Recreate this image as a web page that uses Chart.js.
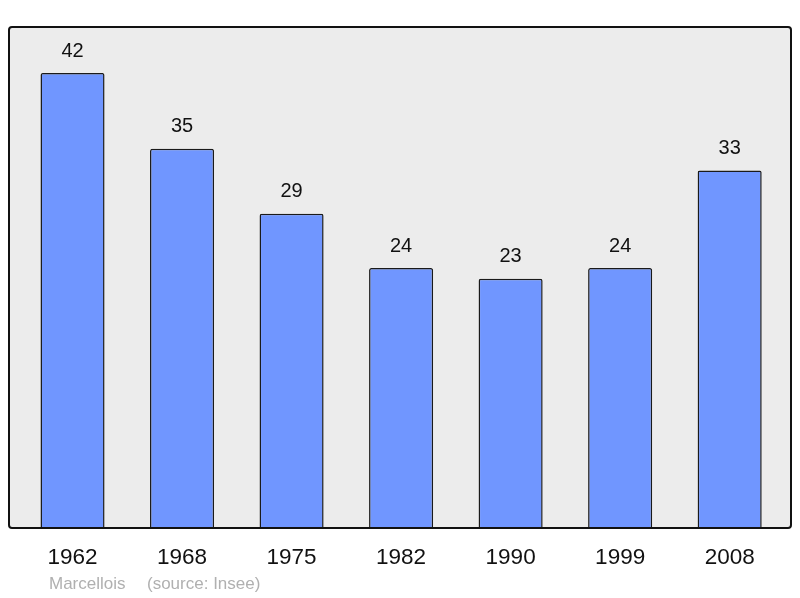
<!DOCTYPE html>
<html>
<head>
<meta charset="utf-8">
<script src="https://cdn.jsdelivr.net/npm/chart.js@4"></script>
<style>
  body { margin: 0; background: #fff; }
  #wrap { width: 800px; height: 598px; }
</style>
</head>
<body>
<div id="wrap"><canvas id="pop-chart"></canvas></div>
<script>
const years = ["1962", "1968", "1975", "1982", "1990", "1999", "2008"];
const population = [42, 35, 29, 24, 23, 24, 33];
const footerName = "Marcellois";
const footerSource = "(source: Insee)";

const FONT = "'Liberation Sans', Arial, sans-serif";

// grey box with black rounded border behind the bars
const plotBox = {
  id: "plotBox",
  beforeDatasetsDraw(chart) {
    const { ctx, chartArea: a } = chart;
    ctx.save();
    ctx.beginPath();
    ctx.roundRect(a.left, a.top, a.right - a.left, a.bottom - a.top, 3);
    ctx.fillStyle = "#ececec";
    ctx.fill();
    ctx.restore();
  },
  afterDatasetsDraw(chart) {
    const { ctx, chartArea: a } = chart;
    ctx.save();
    ctx.beginPath();
    ctx.roundRect(a.left, a.top, a.right - a.left, a.bottom - a.top, 3);
    ctx.lineWidth = 2;
    ctx.strokeStyle = "#111";
    ctx.stroke();
    ctx.restore();
  },
};

// values above bars + footer line
const labelsPlugin = {
  id: "labelsPlugin",
  afterDraw(chart) {
    const ctx = chart.ctx;
    ctx.save();
    ctx.font = "20px " + FONT;
    ctx.fillStyle = "#111";
    ctx.textAlign = "center";
    ctx.textBaseline = "middle";
    chart.getDatasetMeta(0).data.forEach((bar, i) => {
      ctx.fillText(String(population[i]), bar.x, bar.y - 22);
    });
    ctx.font = "17px " + FONT;
    ctx.fillStyle = "#b0b0b0";
    ctx.textAlign = "left";
    ctx.fillText(footerName, 49, 584);
    ctx.fillText(footerSource, 147, 584);
    ctx.restore();
  },
};

const ctx = document.querySelector("#pop-chart");

new Chart(ctx, {
  type: "bar",
  data: {
    datasets: [
      {
        data: population.map((v, i) => ({ x: i, y: v })),
        backgroundColor: "#7096ff",
        borderColor: "#1a1a1a",
        borderWidth: 1.5,
        borderRadius: 2,
        borderSkipped: "bottom",
        categoryPercentage: 1,
        barPercentage: 0.585,
      },
    ],
  },
  options: {
    responsive: true,
    maintainAspectRatio: false,
    animation: false,
    layout: { padding: { left: 9, right: 9, top: 27, bottom: 0 } },
    plugins: {
      legend: { display: false },
      tooltip: { enabled: false },
    },
    scales: {
      x: {
        type: "linear",
        offset: false,
        min: -0.58,
        max: 6.56,
        grid: { display: false, drawTicks: false, offset: false },
        border: { display: false },
        afterFit: (s) => { s.height = 70; },
        afterBuildTicks: (s) => {
          s.ticks = years.map((y, i) => ({ value: i }));
        },
        ticks: {
          autoSkip: false,
          maxRotation: 0,
          padding: 16.5,
          color: "#111",
          font: { family: FONT, size: 22.5 },
          callback: (v) => years[v],
        },
      },
      y: {
        display: false,
        min: 0,
        max: 46.25,
      },
    },
  },
  plugins: [plotBox, labelsPlugin],
});
</script>
</body>
</html>
